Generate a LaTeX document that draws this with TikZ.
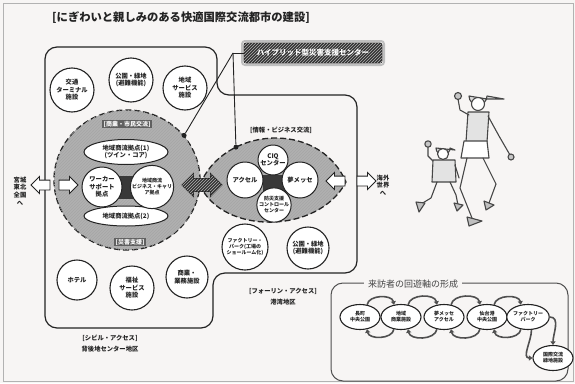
\documentclass[tikz,border=0pt]{standalone}
\usepackage{fontspec}
\setmainfont{Noto Sans CJK JP}
\usetikzlibrary{shapes.geometric,shapes.arrows,patterns,arrows.meta}
\definecolor{paper}{RGB}{247,245,244}
\definecolor{ink}{RGB}{35,35,35}
\begin{document}
\begin{tikzpicture}[x=1pt,y=-1pt,
  every node/.style={align=center,inner sep=0pt,text=ink},
  small/.style={font=\bfseries\fontsize{6.3}{7.6}\selectfont},
  tiny/.style={font=\bfseries\fontsize{5}{6}\selectfont},
  facility/.style={circle,draw=ink,line width=1.1pt,fill=white,small},
  core/.style={circle,draw=ink,line width=1pt,fill=white,small},
  coreoval/.style={ellipse,draw=ink,line width=1pt,fill=white,small},
  hatch/.style={fill=gray!62,postaction={pattern=north east lines,pattern color=black!35}},
  darkhatch/.style={fill=gray!40!black,postaction={pattern=north east lines,pattern color=gray!60}},
  dashedge/.style={draw=ink,line width=1.3pt,dash pattern=on 6pt off 3pt},
  zonelabel/.style={fill=gray!75!black,text=white,inner sep=1.2pt,font=\bfseries\fontsize{6}{7}\selectfont},
  blockarrow/.style={single arrow,draw=ink,line width=0.9pt,fill=white,minimum height=19pt,inner xsep=0pt,inner ysep=4.5pt,single arrow head extend=3.5pt,single arrow head indent=0pt},
  zone/.style={draw=ink,line width=1.2pt,rounded corners=12pt},
  hub/.style={circle,fill=ink,minimum size=5pt},
  spot/.style={ellipse,draw=ink,line width=1.1pt,fill=white,minimum width=40pt,minimum height=25pt,tiny},
  flow/.style={draw=ink!80,line width=1.6pt,-{Triangle[length=3.5pt,width=5pt]}},
  sketch/.style={draw=gray!55!black,line width=1.1pt,line cap=round,line join=round},
]
\useasboundingbox (0,0) rectangle (575,383);
\fill[paper] (0,0) rectangle (575,383);
\draw[gray!60,line width=0.8pt] (3,3) rectangle (573,381);

% title
\node[font=\bfseries\fontsize{11.3}{13}\selectfont,anchor=west] (title) at (52,18) {[にぎわいと親しみのある快適国際交流都市の建設]};

% the two access zones as one outline
\draw[zone] (45,47) -- (217,47) -- (217,95) -- (357,95) -- (357,273) -- (213,273) -- (213,328) -- (45,328) -- cycle;

% information / business lens
\path[hatch] (200,185) .. controls (222,128) and (318,118) .. (346,182) .. controls (318,235) and (222,235) .. (200,185) -- cycle;
\draw[dashedge] (200,185) .. controls (222,128) and (318,118) .. (346,182) coordinate[pos=0.3] (lensdot) .. controls (318,235) and (222,235) .. (200,185);

% commerce / civic core
\node[ellipse,hatch,dashedge,minimum width=146pt,minimum height=140pt] (civcore) at (127,180) {};

% top row facilities
\node[facility,minimum size=44pt] (terminal) at (72,90) {交通\\ターミナル\\施設};
\node[facility,minimum size=44pt] (park1) at (131,80) {公園・緑地\\(避難機能)};
\node[facility,minimum size=44pt] (service) at (185,88) {地域\\サービス\\施設};

% bottom row facilities
\node[facility,minimum size=40pt] (hotel) at (77,280) {ホテル};
\node[facility,minimum size=44pt] (welfare) at (132,288) {福祉\\サービス\\施設};
\node[facility,minimum size=42pt] (business) at (187,277) {商業・\\業務施設};
\node[facility,minimum size=46pt,tiny] (factory) at (245,247) {ファクトリー・\\パーク(工場の\\ショールーム化)};
\node[facility,minimum size=42pt] (park2) at (308,248) {公園・緑地\\(避難機能)};

% inside the civic core
\fill[gray!45!black] (116,176) rectangle (140,199);
\node[zonelabel] (lbcommerce) at (127,124) {[商業・市民交流]};
\node[coreoval,minimum width=84pt,minimum height=25pt] (hub1) at (126,152) {地域商流拠点(1)\\(ツイン・コア)};
\node[coreoval,minimum width=84pt,minimum height=20pt] (hub2) at (126,216) {地域商流拠点(2)};
\node[core,minimum size=40pt] (worker) at (102,187) {ワーカー\\サポート\\拠点};
\node[core,minimum size=40pt,tiny] (career) at (152,187) {地域商流\\ビジネス・キャリ\\ア拠点};
\node[zonelabel] (lbdisaster) at (130,242) {[災害支援]};

% inside the lens
\fill[gray!45!black] (263,175) rectangle (287,192);
\node[small] (lbinfo) at (281,130) {[情報・ビジネス交流]};
\node[core,minimum size=30pt] (ciq) at (273,160) {CIQ\\センター};
\node[core,minimum size=36pt] (axel) at (245,180) {アクセル};
\node[core,minimum size=36pt] (messe) at (300,180) {夢メッセ};
\node[core,minimum size=32pt,tiny] (control) at (274,205) {防災支援\\コントロール\\センター};

% link between the two cores
\node[double arrow,draw=ink,line width=0.9pt,darkhatch,minimum height=40pt,inner xsep=0pt,inner ysep=6pt,double arrow head extend=5pt,double arrow head indent=0pt] (link) at (202,185) {};

% access arrows
\node[blockarrow,shape border rotate=180] (toregion) at (43,185) {};
\node[blockarrow] (fromregion) at (66,185) {};
\node[blockarrow,shape border rotate=180] (fromworld) at (338,181) {};
\node[blockarrow] (toworld) at (364,181) {};
\node[small] (region) at (20,191) {宮城\\東北\\全国\\へ};
\node[small] (world) at (383,185) {海外\\世界\\へ};

% hybrid centre and its leaders
\node[rounded corners=3pt,draw=gray!50,line width=2pt,minimum width=142pt,minimum height=24pt] (hybridframe) at (313,53) {};
\node[rounded corners=2pt,draw=ink,line width=0.8pt,darkhatch,minimum width=138pt,minimum height=20pt,text=white,font=\bfseries\fontsize{7.5}{9}\selectfont] (hybrid) at (313,53) {ハイブリッド型災害支援センター};
\coordinate (fork) at (233,53);
\node[hub] (dotcore) at (civcore.38) {};
\node[hub] (dotlens) at (lensdot) {};
\draw[ink,line width=0.9pt] (hybrid.west) -- (fork);
\draw[ink,line width=0.9pt] (fork) -- (dotcore);
\draw[ink,line width=0.9pt] (fork) -- (dotlens);

% zone captions
\node[small] (civil) at (110,338) {[シビル・アクセス]};
\node[small] (civilsub) at (110,349) {背後地センター地区};
\node[small] (foreign) at (283,291) {[フォーリン・アクセス]};
\node[small] (foreignsub) at (283,302) {港湾地区};

% visitor circulation
\draw[ink!80,line width=1pt,rounded corners=12pt] (331,283) rectangle (568,381);
\node[fill=paper,inner xsep=4pt,font=\fontsize{9}{10}\selectfont,text=ink!85] (circtitle) at (413,284) {来訪者の回遊軸の形成};
\node[spot] (s1) at (360,317) {長町\\中央公園};
\node[spot] (s2) at (401,317) {地域\\商業施設};
\node[spot] (s3) at (444,317) {夢メッセ\\アクセル};
\node[spot] (s4) at (487,317) {仙台港\\中央公園};
\node[spot] (s5) at (528,317) {ファクトリー\\パーク};
\node[spot] (s6) at (553,358) {国際交流\\緑地施設};
\foreach \a/\b in {s1/s2,s2/s3,s3/s4,s4/s5}{
  \draw[flow] (\a.60) to[out=80,in=100] (\b.120);
  \draw[flow] (\b.240) to[out=-100,in=-80] (\a.300);
}
\draw[flow] (s5.east) to[out=0,in=90] (s6.north);
\draw[flow] (s5.285) to[out=-90,in=180] (s6.west);

% two runners
\begin{scope}
  % tall runner
  \draw[sketch,fill=gray!30] (469,96) arc[start angle=180,end angle=0,radius=9] -- (504,99) -- (487,99) -- cycle;
  \draw[sketch,fill=white] (478,104) circle[radius=6.5];
  \draw[sketch,fill=gray!22] (468,112) -- (489,112) -- (487,142) -- (466,142) -- cycle;
  \draw[sketch] (469,115) -- (460,110) -- (458,99);
  \draw[sketch,fill=gray!45] (458,96) circle[radius=3.5];
  \draw[sketch] (488,116) -- (499,136) -- (510,155);
  \draw[sketch,fill=gray!45] (511,157) circle[radius=3];
  \draw[sketch,fill=white] (464,141) -- (487,141) -- (489,158) -- (461,158) -- cycle;
  \draw[sketch] (467,158) -- (460,188) -- (472,218);
  \draw[sketch,fill=gray!50] (467,217) -- (482,221) -- (469,226) -- cycle;
  \draw[sketch] (483,158) -- (496,184) -- (489,203);
  \draw[sketch,fill=gray!50] (484,201) -- (494,205) -- (486,210) -- cycle;
  % small runner
  \draw[sketch,fill=gray!30] (436,148) arc[start angle=180,end angle=0,radius=7] -- (455,150) -- cycle;
  \draw[sketch,fill=white] (443,154) circle[radius=5.5];
  \draw[sketch] (436,164) -- (428,156) -- (428,147);
  \draw[sketch,fill=gray!45] (428,144) circle[radius=3.2];
  \draw[sketch,fill=gray!22] (433,160) -- (455,160) -- (456,182) -- (432,182) -- cycle;
  \draw[sketch] (455,165) -- (459,178);
  \draw[sketch] (437,182) -- (431,198) -- (421,204);
  \draw[sketch,fill=gray!50] (416,202) -- (425,203) -- (419,212) -- cycle;
  \draw[sketch] (450,182) -- (456,195) -- (458,205);
  \draw[sketch,fill=gray!50] (454,203) -- (463,205) -- (457,211) -- cycle;
\end{scope}
\end{tikzpicture}
\end{document}
